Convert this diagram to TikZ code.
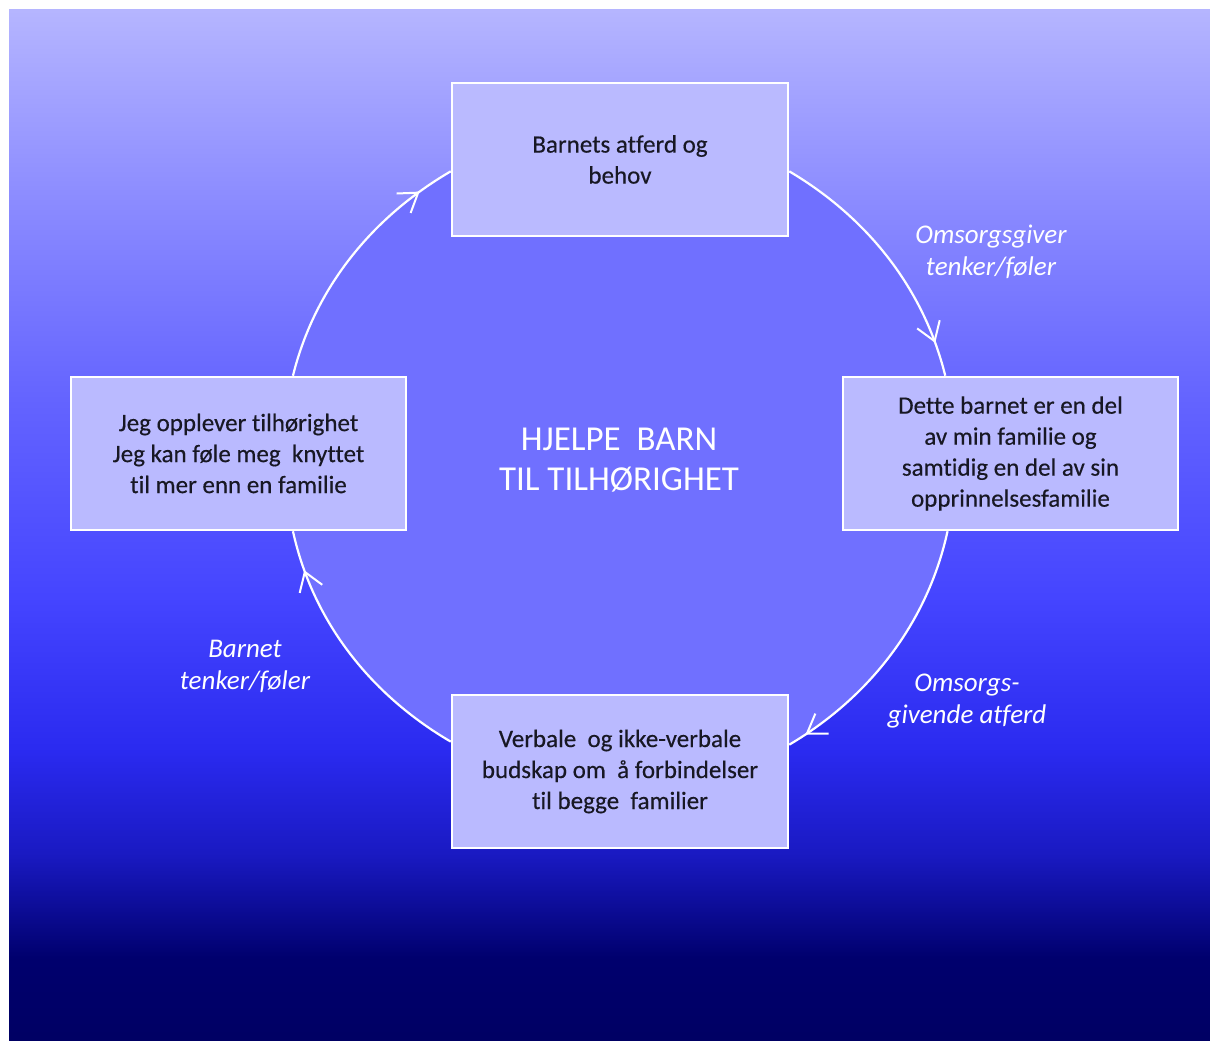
\documentclass[tikz,border=0pt]{standalone}
\usepackage{fontspec}
\setmainfont{Carlito}[Ligatures=NoCommon]
\newfontfamily\stagefont{Carlito}[Ligatures=NoCommon, FakeBold=0.35]
\usetikzlibrary{arrows.meta,decorations.markings}

\definecolor{discblue}{RGB}{112,112,255}
\definecolor{boxfill}{RGB}{186,186,255}
\definecolor{boxink}{RGB}{24,24,36}

\pgfdeclarelayer{backdrop}
\pgfdeclarelayer{disc}
\pgfsetlayers{backdrop,disc,main}

% vertical fade of the backdrop: the path is fitted to 25bp..75bp
\pgfdeclareverticalshading{skyfade}{100bp}{%
  rgb(0bp)=(0,0,0.39);
  rgb(25bp)=(0,0,0.39);
  rgb(29bp)=(0,0,0.43);
  rgb(34bp)=(0.10,0.10,0.76);
  rgb(39bp)=(0.165,0.165,0.94);
  rgb(46.5bp)=(0.27,0.27,1);
  rgb(56bp)=(0.39,0.39,1);
  rgb(66bp)=(0.55,0.55,1);
  rgb(75bp)=(0.71,0.71,1);
  rgb(100bp)=(0.71,0.71,1)}

\tikzset{
  stage/.style={draw=white, line width=2.5pt, fill=boxfill, text=boxink,
    minimum width=336pt, minimum height=153pt, inner sep=0pt, align=center,
    font=\stagefont\fontsize{25}{31}\selectfont},
  caption/.style={text=white, align=center,
    font=\fontsize{27}{32}\selectfont\itshape},
  flow/.style={draw=white, line width=2.2pt,
    postaction={decorate},
    decoration={markings, mark=at position #1 with
      {\arrow{Straight Barb[length=18pt,width=24pt,line width=2pt]}}}},
  % bends of the four arcs, shared by the disc and the connectors
  arcA/.style={out=-30.6, in=103.9, looseness=0.9},
  arcB/.style={out=-102.3, in=30.6, looseness=0.9},
  arcC/.style={out=149.7, in=-77.6, looseness=0.9},
  arcD/.style={out=76.1, in=210.3, looseness=0.9},
}

\begin{document}
\begin{tikzpicture}[x=1pt,y=1pt]
  \useasboundingbox (0,0) rectangle (1210,1042);
  \begin{pgfonlayer}{backdrop}
    \fill[white] (0,0) rectangle (1210,1042);
    \shade[shading=skyfade] (9,2) rectangle (1210,1032);
  \end{pgfonlayer}

  % stages of the cycle
  \node[stage] (top) at (620,882.5) {Barnets atferd og\\behov};
  \node[stage, minimum width=335pt] (right) at (1010.5,588.5)
    {Dette barnet er en del\\av min familie og\\samtidig en del av sin\\opprinnelsesfamilie};
  \node[stage] (bottom) at (620,270.5)
    {Verbale~ og ikke-verbale\\budskap om~ å forbindelser\\til begge~ familier};
  \node[stage, minimum width=335pt] (left) at (238.5,588.5)
    {Jeg opplever tilhørighet\\Jeg kan føle meg~ knyttet\\til mer enn en familie};

  % the disc enclosed by the cycle, kept behind the stages
  \begin{pgfonlayer}{disc}
    \fill[discblue]
      (top.-4.3) to[arcA] (right.130) -- (right.center) -- (right.-129.5)
      to[arcB] (bottom.9.3) -- (bottom.center) -- (bottom.170.7)
      to[arcC] (left.-55) -- (left.center) -- (left.55)
      to[arcD] (top.184.3) -- (top.center) -- cycle;
  \end{pgfonlayer}

  % title in the middle
  \node[text=white, align=center, font=\fontsize{35}{40}\selectfont] (title)
    at (619,582) {HJELPE~ BARN\\TIL TILHØRIGHET};

  % connectors around the circle
  \draw[flow=0.87] (top.-4.3) to[arcA] (right.130);
  \draw[flow=0.93] (right.-129.5) to[arcB] (bottom.9.3);
  \draw[flow=0.85] (bottom.170.7) to[arcC] (left.-55);
  \draw[flow=0.86] (left.55) to[arcD] (top.184.3);

  % captions beside the connectors
  \node[caption] (c1) at (991,790) {Omsorgsgiver\\tenker/føler};
  \node[caption] (c2) at (967,341) {Omsorgs-\\givende atferd};
  \node[caption] (c3) at (245,376) {Barnet\\tenker/føler};
\end{tikzpicture}
\end{document}
